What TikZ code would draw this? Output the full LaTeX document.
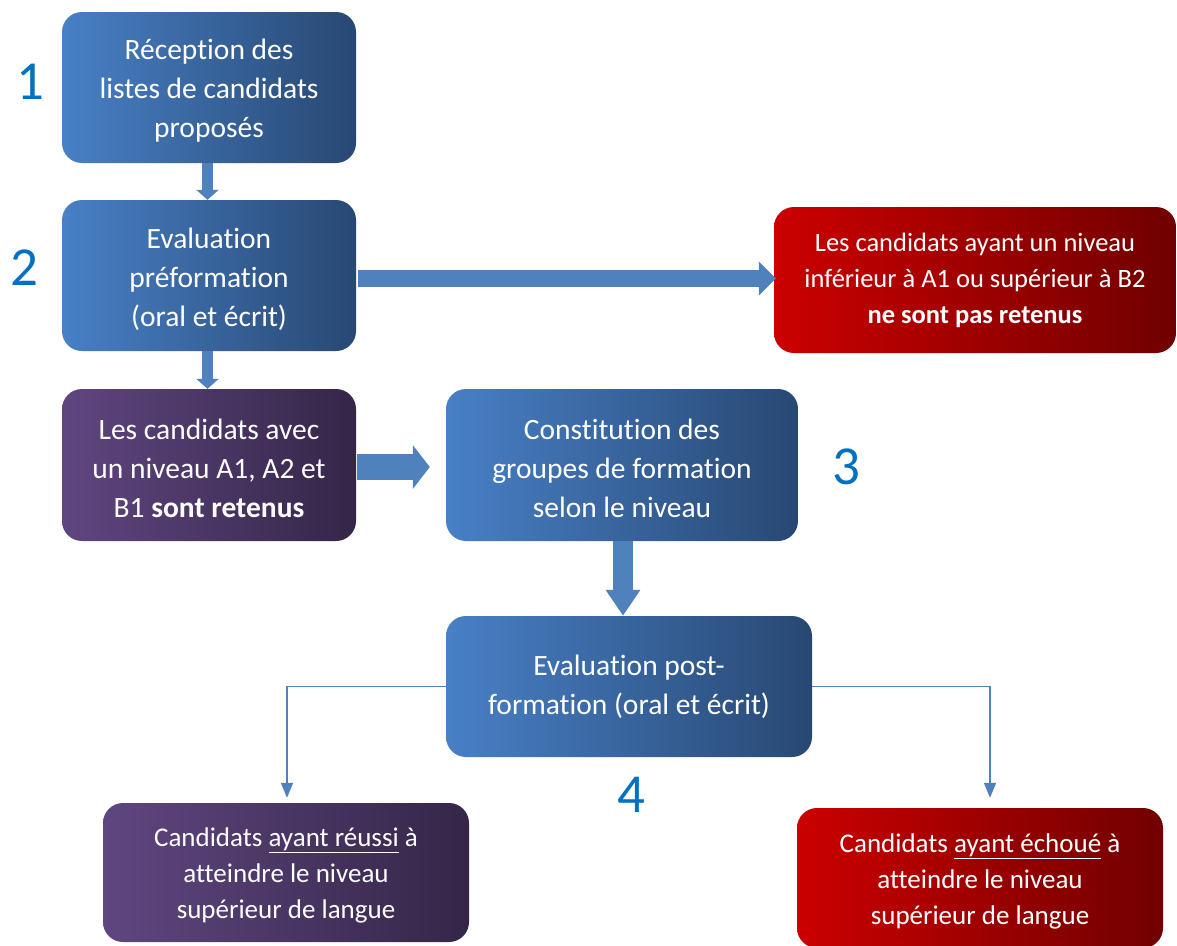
\documentclass[tikz,border=0pt]{standalone}
\usepackage{fontspec}
\setmainfont{Carlito}[Ligatures=NoCommon]
\usetikzlibrary{arrows.meta}
\definecolor{bL}{RGB}{72,128,198}
\definecolor{bR}{RGB}{40,72,115}
\definecolor{pL}{RGB}{96,70,128}
\definecolor{pR}{RGB}{52,38,72}
\definecolor{rL}{RGB}{204,0,0}
\definecolor{rR}{RGB}{112,0,0}
\definecolor{arr}{RGB}{79,129,189}
\definecolor{num}{RGB}{0,112,192}
\tikzset{
  box/.style={rounded corners=20pt, inner sep=0pt, align=center, text=white,
    font=\fontsize{29.5}{39}\selectfont},
  bluebox/.style={box, left color=bL, right color=bR},
  purplebox/.style={box, left color=pL, right color=pR},
  redbox/.style={box, left color=rL, right color=rR},
  small/.style={font=\fontsize{27}{36}\selectfont},
  numlabel/.style={text=num, font=\fontsize{55}{60}\selectfont, inner sep=0pt},
  blockarrow/.style={draw=arr, line width=#1},
  thinarrow/.style={draw=arr, line width=1.5pt, -{Triangle[width=12pt,length=15pt]}}
}
\begin{document}
\begin{tikzpicture}[x=1pt,y=-1pt]
\useasboundingbox (0,0) rectangle (1177,945);
\node[bluebox, minimum width=294pt, minimum height=151pt] (b1) at (209,87.5)
  {\strut Réception des\\listes de candidats\\proposés};
\node[bluebox, minimum width=294pt, minimum height=151pt] (b2) at (209,275.5)
  {\strut Evaluation\\préformation\\(oral et écrit)};
\node[redbox, small, font=\fontsize{26.5}{36}\selectfont, minimum width=402pt, minimum height=146pt] (r1) at (975,280)
  {Les candidats ayant un niveau\\inférieur à A1 ou supérieur à B2\\\textbf{ne sont pas retenus}};
\node[purplebox, minimum width=294pt, minimum height=152pt] (p1) at (209,465)
  {\strut Les candidats avec\\un niveau A1, A2 et\\B1 \textbf{sont retenus}};
\node[bluebox, minimum width=352pt, minimum height=152pt] (b3) at (622,465)
  {\strut Constitution des\\groupes de formation\\selon le niveau};
\node[bluebox, minimum width=366pt, minimum height=141pt] (b4) at (629,686.5)
  {Evaluation post-\\formation (oral et écrit)};
\node[purplebox, small, minimum width=366pt, minimum height=139pt] (p2) at (286,872.5)
  {\strut Candidats \underline{ayant réussi} à\\atteindre le niveau\\supérieur de langue};
\node[redbox, small, minimum width=366pt, minimum height=140pt] (r2) at (980,878)
  {\strut Candidats \underline{ayant échoué} à\\atteindre le niveau\\supérieur de langue};
\node[numlabel] (n1) at (30,82) {1};
\node[numlabel] (n2) at (24,268) {2};
\node[numlabel] (n3) at (846,467) {3};
\node[numlabel] (n4) at (631,795) {4};
% block arrows
\draw[blockarrow=11pt, -{Triangle[width=22pt,length=10pt]}] ([xshift=-1.5pt]b1.south) -- ([xshift=-1.5pt]b2.north);
\draw[blockarrow=11pt, -{Triangle[width=22pt,length=10pt]}] ([xshift=-1.5pt]b2.south) -- ([xshift=-1.5pt]p1.north);
\draw[blockarrow=17pt, -{Triangle[width=33pt,length=17pt]}] ([shift={(2pt,-3pt)}]b2.east) -- ([shift={(2pt,-3pt)}]b2.east -| r1.west);
\draw[blockarrow=26pt, -{Triangle[width=43pt,length=17pt]}] ([shift={(1pt,-2pt)}]p1.east) -- ([shift={(-16pt,-2pt)}]b3.west);
\draw[blockarrow=20pt, -{Triangle[width=33pt,length=26pt]}] ([xshift=1pt]b3.south) -- ([xshift=1pt]b3.south |- b4.north);
% thin arrows
\draw[thinarrow, shorten >=5pt] (b4.west) -| ([xshift=1pt]p2.north);
\draw[thinarrow, shorten >=10pt] (b4.east) -| ([xshift=10pt]r2.north);
\end{tikzpicture}
\end{document}
